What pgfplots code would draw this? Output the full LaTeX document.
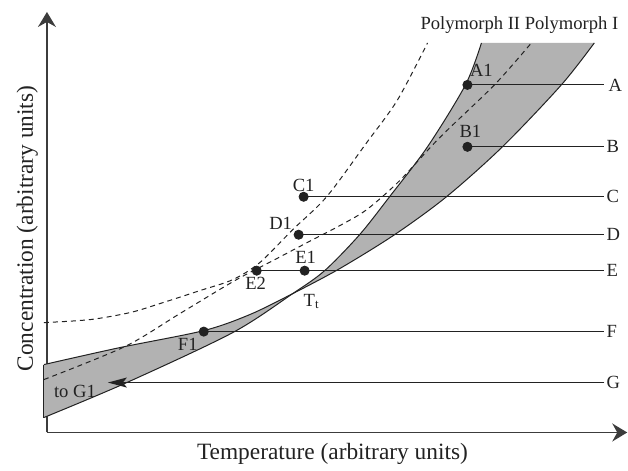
\documentclass[border=0pt]{standalone}
\usepackage{fontspec}
\setmainfont{Liberation Serif}
\usepackage{pgfplots}
\pgfplotsset{compat=1.18}
\usepgfplotslibrary{fillbetween}
\usetikzlibrary{arrows.meta}
\definecolor{band}{RGB}{178,178,178}
\definecolor{ink}{RGB}{34,34,34}
\definecolor{axisgray}{RGB}{60,60,60}
\tikzset{lab/.style={font=\fontsize{9.3}{11}\selectfont, text=ink, inner sep=0pt}}

\begin{document}
\begin{tikzpicture}
\begin{axis}[
  x=0.5pt, y=0.5pt,
  xmin=47, xmax=628, ymin=32, ymax=453,
  enlargelimits=false,
  axis lines=left,
  axis line style={axisgray, line width=0.75pt, -{Stealth[length=7.5pt, width=9pt, inset=2.5pt]}},
  xtick=\empty, ytick=\empty,
  clip=false,
  xlabel={Temperature (arbitrary units)},
  ylabel={Concentration (arbitrary units)},
  label style={font=\fontsize{11.7}{14}\selectfont, text=ink},
  xlabel style={at={(axis description cs:0.492,-0.05)}, anchor=center},
  ylabel style={at={(axis description cs:-0.034,0.485)}, anchor=center},
]
% invisible frame for the page size
\path (axis cs:0,0) rectangle (axis cs:628,465);

% solubility curves (hidden, for the band)
\addplot[draw=none, smooth, name path=steep] coordinates {
  (44,47) (127,82) (233,132) (293,171) (325,194) (360,230)
  (390,268) (428,318) (466,380) (482,422)};
\addplot[draw=none, smooth, name path=shallow] coordinates {
  (44,100) (120,117) (204,134) (250,150) (293,171)
  (340,196) (395,230) (447,268) (503,318) (562,380) (595,422)};
\addplot[band] fill between[of=steep and shallow];

% visible solid curves
\addplot[ink, line width=0.5pt, smooth] coordinates {
  (44,47) (127,82) (233,132) (293,171) (325,194) (360,230)
  (390,268) (428,318) (466,380) (482,422)};
\addplot[ink, line width=0.5pt, smooth] coordinates {
  (44,100) (120,117) (204,134) (250,150) (293,171)
  (340,196) (395,230) (447,268) (503,318) (562,380) (595,422)};
\addplot[ink, line width=0.5pt] coordinates {(44,47) (44,100)};

% dashed limits
\addplot[ink, line width=0.5pt, smooth, dash pattern=on 2.5pt off 2pt] coordinates {
  (44,142) (90,145) (130,152) (160,161) (200,174) (233,185)
  (260,202) (293,235) (327,268) (367,322) (398,365) (428,422)};
\addplot[ink, line width=0.5pt, smooth, dash pattern=on 2.5pt off 2pt] coordinates {
  (44,85) (125,118) (180,151) (235,184) (275,205) (313,225)
  (340,239) (367,255) (400,284) (440,327) (495,380) (532,422)};

% horizontal paths
\addplot[ink, line width=0.6pt] coordinates {(468,380) (605,380)};
\addplot[ink, line width=0.6pt] coordinates {(468,318) (605,318)};
\addplot[ink, line width=0.6pt] coordinates {(304,268) (605,268)};
\addplot[ink, line width=0.6pt] coordinates {(299,230) (605,230)};
\addplot[ink, line width=0.6pt] coordinates {(257,194) (605,194)};
\addplot[ink, line width=0.6pt] coordinates {(204,133) (605,133)};
\addplot[ink, line width=0.6pt, -{Stealth[length=9.5pt, width=5pt, inset=2pt]}] coordinates {(605,82) (108,82)};

% points
\addplot[only marks, mark=*, mark size=2.3pt, color=ink] coordinates {
  (468,380) (468,318) (304,268) (299,230) (257,194) (305,194) (204,133)};

% labels
\node[lab, anchor=west] at (axis cs:609,380) {A};
\node[lab, anchor=west] at (axis cs:607,318) {B};
\node[lab, anchor=west] at (axis cs:607,268) {C};
\node[lab, anchor=west] at (axis cs:607,230) {D};
\node[lab, anchor=west] at (axis cs:607,194) {E};
\node[lab, anchor=west] at (axis cs:607,133) {F};
\node[lab, anchor=west] at (axis cs:607,82) {G};
\node[lab] at (axis cs:482,395) {A1};
\node[lab] at (axis cs:471,333) {B1};
\node[lab] at (axis cs:304,279) {C1};
\node[lab] at (axis cs:281,241) {D1};
\node[lab] at (axis cs:306,207) {E1};
\node[lab] at (axis cs:256,181) {E2};
\node[lab] at (axis cs:312,163) {T\textsubscript{t}};
\node[lab] at (axis cs:188,120) {F1};
\node[lab] at (axis cs:75,73) {to G1};
\node[lab] at (axis cs:520,440) {Polymorph II Polymorph I};
\end{axis}
\end{tikzpicture}
\end{document}
